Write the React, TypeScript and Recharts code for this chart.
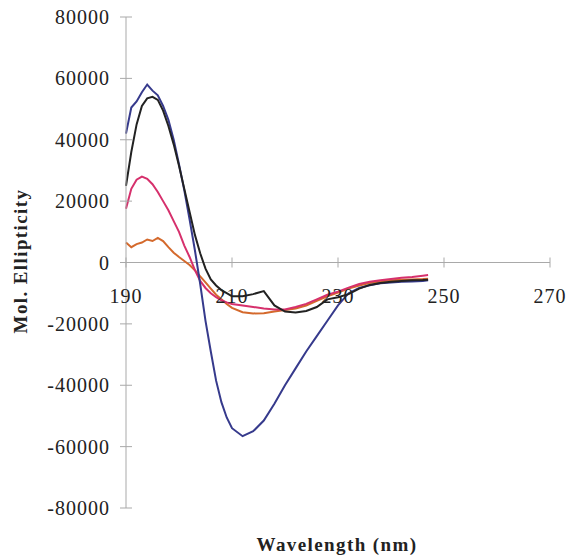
import { LineChart, Line, XAxis, YAxis, ReferenceLine } from "recharts";

// wavelengths (nm) shared by all four spectra
const wavelengths = [
  190, 191, 192, 193, 194, 195, 196, 197, 198, 199, 200, 201, 202, 203, 204,
  205, 206, 207, 208, 209, 210, 212, 214, 216, 218, 220, 222, 224, 226, 228,
  230, 232, 234, 236, 238, 240, 242, 244, 246, 247,
];

const blueValues = [
  42000, 50500, 52500, 55500, 58000, 56000, 54500, 51000, 46500, 40000, 32000,
  23500, 14000, 4000, -7000, -19000, -29000, -38500, -45500, -50500, -54000,
  -56600, -55000, -51500, -46000, -40000, -34500, -29000, -24000, -19000,
  -14000, -10000, -8300, -7400, -6800, -6500, -6300, -6200, -6000, -5800,
];

const blackValues = [
  25000, 36000, 45000, 51000, 53500, 54000, 53000, 49500, 44500, 38500, 31500,
  24000, 16500, 9000, 3000, -2000, -5500, -7500, -9000, -10000, -11000,
  -11000, -10300, -9300, -14000, -16000, -16300, -15800, -14500, -12000,
  -11300, -10300, -8500, -7300, -6700, -6300, -6000, -5800, -5700, -5600,
];

const pinkValues = [
  17500, 24000, 27000, 28000, 27300, 25500, 23000, 20000, 17000, 13500, 10000,
  5500, 1800, -2500, -6000, -8300, -10000, -11300, -12300, -13000, -13500,
  -14000, -14500, -15000, -15300, -15300, -14500, -13500, -12000, -10500,
  -9500, -8200, -7000, -6300, -5800, -5400, -5000, -4700, -4300, -4100,
];

const orangeValues = [
  6500, 5000, 6000, 6500, 7500, 7000, 8000, 7000, 5000, 3200, 1800, 500, -800,
  -2500, -4500, -6500, -8500, -10500, -12000, -13500, -14800, -16200, -16600,
  -16500, -16000, -15500, -15000, -14000, -12500, -11000, -9800, -8500, -7500,
  -6700, -6200, -5800, -5600, -5500, -5400, -5300,
];

const xTicks = [190, 210, 230, 250, 270];
const yTicks = [-80000, -60000, -40000, -20000, 0, 20000, 40000, 60000, 80000];

const rows = wavelengths.map((nm, i) => ({
  nm,
  blue: blueValues[i],
  black: blackValues[i],
  pink: pinkValues[i],
  orange: orangeValues[i],
}));

const W = 569;
const H = 558;
const TOP = 17;
const BOTTOM = 50; // space below plot area (axis height + margin)
const X_AXIS_H = 30;
const AXIS_X = 126;
const ZERO_Y = TOP + (H - TOP - BOTTOM) / 2;
const AXIS_GREY = "#a9a9a9";
const FONT = "'Liberation Serif', 'Times New Roman', serif";

// x ticks sit on the zero line, labels hang below it
function XTick({ x, payload }: any) {
  return (
    <g>
      <line x1={x} x2={x} y1={ZERO_Y - 5} y2={ZERO_Y + 5} stroke={AXIS_GREY} />
      <text
        x={x}
        y={ZERO_Y + 33}
        textAnchor="middle"
        dominantBaseline="central"
        fontFamily={FONT}
        fontSize={20}
        letterSpacing={1}
        fill="#222"
      >
        {payload.value}
      </text>
    </g>
  );
}

function YTick({ y, payload }: any) {
  return (
    <g>
      <line x1={AXIS_X - 6} x2={AXIS_X + 6} y1={y} y2={y} stroke={AXIS_GREY} />
      <text
        x={AXIS_X - 16}
        y={y}
        textAnchor="end"
        dominantBaseline="central"
        fontFamily={FONT}
        fontSize={20}
        letterSpacing={1}
        fill="#222"
      >
        {payload.value}
      </text>
    </g>
  );
}

export default function App() {
  return (
    <>
      <style>{"body { margin: 0; }"}</style>
      <LineChart
        width={W}
        height={H}
        data={rows}
        margin={{ top: TOP, right: 19, bottom: BOTTOM - X_AXIS_H, left: 0 }}
        style={{ background: "#fff" }}
      >
        <XAxis
          dataKey="nm"
          type="number"
          domain={[190, 270]}
          ticks={xTicks}
          axisLine={false}
          tickLine={false}
          height={X_AXIS_H}
          tick={<XTick />}
          label={{
            content: () => (
              <text
                x={337}
                y={551}
                textAnchor="middle"
                fontFamily={FONT}
                fontWeight="bold"
                fontSize={19}
                letterSpacing={1.4}
                fill="#222"
              >
                Wavelength (nm)
              </text>
            ),
          }}
        />
        <YAxis
          type="number"
          domain={[-80000, 80000]}
          ticks={yTicks}
          width={AXIS_X}
          axisLine={{ stroke: AXIS_GREY }}
          tickLine={false}
          tick={<YTick />}
          label={{
            content: () => (
              <text
                x={20}
                y={261}
                transform="rotate(-90 20 261)"
                textAnchor="middle"
                dominantBaseline="central"
                fontFamily={FONT}
                fontWeight="bold"
                fontSize={19}
                letterSpacing={1.4}
                fill="#222"
              >
                Mol. Ellipticity
              </text>
            ),
          }}
        />
        <ReferenceLine y={0} stroke={AXIS_GREY} />
        <Line dataKey="orange" stroke="#d4692c" strokeWidth={2} dot={false} isAnimationActive={false} />
        <Line dataKey="pink" stroke="#d6306c" strokeWidth={2} dot={false} isAnimationActive={false} />
        <Line dataKey="blue" stroke="#363a8c" strokeWidth={2} dot={false} isAnimationActive={false} />
        <Line dataKey="black" stroke="#222222" strokeWidth={2} dot={false} isAnimationActive={false} />
      </LineChart>
    </>
  );
}
